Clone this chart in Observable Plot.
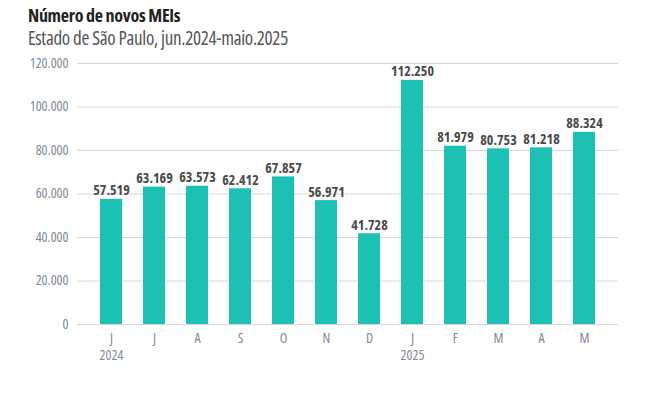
<!DOCTYPE html>
<html><head><meta charset="utf-8">
<script src="https://cdn.jsdelivr.net/npm/d3@7"></script>
<script src="https://cdn.jsdelivr.net/npm/@observablehq/plot@0.6"></script>
<style>
body{margin:0;background:#fff;font-family:"Open Sans","Liberation Sans Narrow",sans-serif;font-stretch:condensed;}
#title{position:absolute;left:28px;top:5px;font-size:18px;line-height:20px;font-weight:700;color:#222;letter-spacing:-0.3px;}
#sub{position:absolute;left:28px;top:28px;font-size:19px;line-height:20px;color:#555;letter-spacing:-0.3px;}
#chart{position:absolute;left:0;top:50px;}
</style></head><body>
<div id="title">Número de novos MEIs</div>
<div id="sub">Estado de São Paulo, jun.2024-maio.2025</div>
<div id="chart"></div>
<script>
const months = ["J","J","A","S","O","N","D","J","F","M","A","M"];
const years = ["2024","","","","","","","2025","","","",""];
const values = [57519,63169,63573,62412,67857,56971,41728,112250,81979,80753,81218,88324];
const yTicks = [0,20000,40000,60000,80000,100000,120000];

const loc = d3.formatLocale({decimal:",",thousands:".",grouping:[3],currency:["R$",""]});
const fmt = loc.format(",d");
const data = values.map((v,i)=>({i, v, label: months[i] + (years[i] ? "\n" + years[i] : "")}));

const chart = Plot.plot({
  width: 646, height: 344,
  marginLeft: 77, marginRight: 28, marginTop: 13, marginBottom: 70,
  style: {fontFamily: '"Open Sans","Liberation Sans Narrow",sans-serif', fontStretch: "condensed"},
  x: {type: "band", domain: data.map(d=>d.i), padding: 0.49, align: 0.5, label: null},
  y: {domain: [0,120000], label: null},
  marks: [
    Plot.gridY(yTicks, {stroke: "#d6d6d6", strokeOpacity: 1}),
    Plot.axisY(yTicks, {tickSize: 0, tickPadding: 9, tickFormat: fmt, fill: "#7d8b99", fontSize: 14, label: null}),
    Plot.axisX({tickSize: 0, tickPadding: 6, tickFormat: i => data[i].label, fill: "#7d8b99", fontSize: 14, lineAnchor: "top", lineHeight: 1.25, label: null}),
    Plot.barY(data, {x: "i", y: "v", fill: "#1dc1b3"}),
    Plot.text(data, {x: "i", y: "v", text: d => fmt(d.v), lineAnchor: "bottom", dy: -4, fontSize: 14, fontWeight: 700, fill: "#4a4a4a"})
  ]
});
document.getElementById("chart").appendChild(chart);
</script>
</body></html>
